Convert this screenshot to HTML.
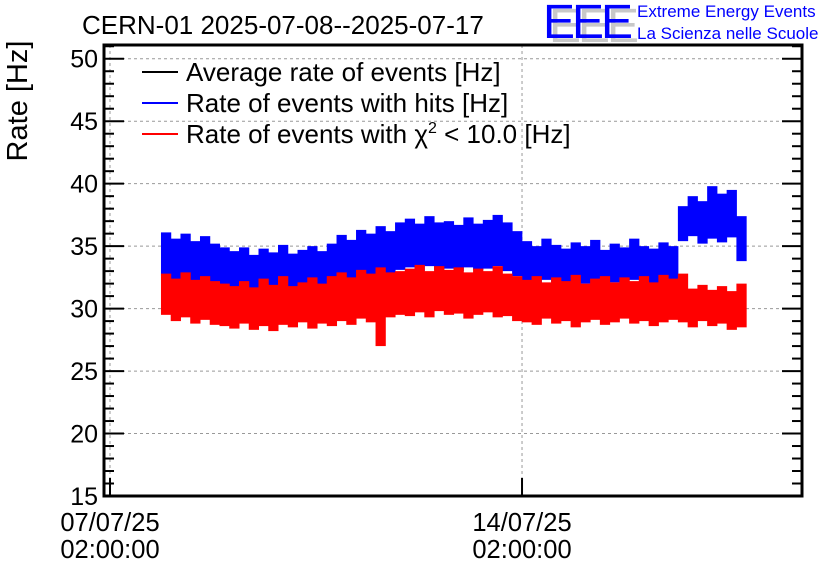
<!DOCTYPE html>
<html><head><meta charset="utf-8"><style>
body{margin:0;background:#fff;}
svg text{font-family:"Liberation Sans",sans-serif;}
</style></head><body>
<svg id="chart" width="836" height="572" xmlns="http://www.w3.org/2000/svg">
<rect width="836" height="572" fill="#fff"/>
<text x="82" y="34" font-size="26">CERN-01 2025-07-08--2025-07-17</text>
<g>
<text x="549" y="42" font-size="48" fill="#c8c8c8" letter-spacing="-3">EEE</text>
<text x="543" y="38" font-size="48" fill="#0000ff" letter-spacing="-3">EEE</text>
<text x="637" y="17" font-size="17" fill="#0000ff">Extreme Energy Events</text>
<text x="637" y="39" font-size="17" fill="#0000ff">La Scienza nelle Scuole</text>
</g>
<text transform="translate(27,101) rotate(-90)" text-anchor="middle" font-size="29">Rate [Hz]</text>
<g id="grid"></g>
<g id="data"></g>
<g id="axes"></g>
<g>
<line x1="142" y1="72" x2="178" y2="72" stroke="#000" stroke-width="2"/>
<text x="186" y="81" font-size="26">Average rate of events [Hz]</text>
<line x1="142" y1="103" x2="178" y2="103" stroke="#0000ff" stroke-width="2"/>
<text x="186" y="112" font-size="26">Rate of events with hits [Hz]</text>
<line x1="142" y1="134" x2="178" y2="134" stroke="#ff0000" stroke-width="2"/>
<text x="186" y="143" font-size="26">Rate of events with χ<tspan font-size="16" dy="-10">2</tspan><tspan dy="10"> &lt; 10.0 [Hz]</tspan></text>
</g>
</svg>
<script>
const yTicks=[15,20,25,30,35,40,45,50];
const xTickDays=[0,7];
const xTickLabels=[["07/07/25","02:00:00"],["14/07/25","02:00:00"]];
const startDay=0.866;
const binDays=0.1657;
const blueHi=[36.1,35.6,36.0,35.4,35.8,35.2,34.9,34.6,34.9,34.3,34.8,34.5,35.1,34.4,34.7,35.0,34.6,35.2,35.9,35.5,36.3,36.0,36.6,36.2,36.9,37.2,36.8,37.4,36.9,37.0,36.7,37.3,36.8,37.1,37.5,36.9,36.2,35.4,35.0,35.6,35.1,34.8,35.3,35.0,35.5,34.7,35.2,34.9,35.6,35.0,34.8,35.3,35.0,38.2,39.0,38.6,39.8,39.2,39.5,37.4];
const blueLo=[32.6,32.2,32.4,32.0,32.3,31.9,31.7,31.5,31.8,31.4,31.7,31.5,31.9,31.6,31.8,32.0,31.7,32.2,32.5,32.3,32.8,32.6,33.0,32.7,33.1,33.3,33.0,33.4,33.1,33.2,33.0,33.3,33.1,33.2,33.4,33.0,32.6,32.2,32.0,32.3,32.1,31.9,32.2,32.0,32.3,31.8,32.1,31.9,32.3,32.0,31.9,32.2,32.0,35.4,35.8,35.2,35.6,35.3,35.7,33.8];
const redHi=[32.8,32.4,32.9,32.3,32.6,32.2,32.0,31.8,32.2,31.7,32.4,31.9,32.6,31.8,32.1,32.5,32.0,32.6,32.9,32.5,33.1,32.8,33.3,32.9,33.0,33.2,33.5,33.0,33.4,33.1,33.3,32.9,33.2,33.0,33.4,32.8,32.6,32.3,32.6,32.1,32.5,32.2,32.7,32.0,32.4,32.6,32.1,32.5,32.2,32.6,32.1,32.7,32.4,32.8,31.6,31.9,31.5,31.8,31.4,32.0];
const redLo=[29.5,29.0,29.3,28.8,29.1,28.7,28.6,28.4,28.8,28.3,28.6,28.2,28.7,28.5,28.9,28.4,28.8,28.6,29.0,28.7,29.2,28.9,27.0,29.3,29.5,29.4,29.7,29.3,29.8,29.5,29.6,29.2,29.5,29.7,29.3,29.4,29.0,28.9,28.7,29.2,28.8,29.0,28.5,28.9,29.1,28.7,28.9,29.2,28.8,29.0,28.6,28.9,29.1,28.9,28.5,29.0,28.6,28.8,28.3,28.5];

const NS="http://www.w3.org/2000/svg";
const L=104,R=802,T=45,B=496;
const yMin=15,yMax=51.1;
const dayPx=58.86, day0X=110;
function xs(d){return day0X+d*dayPx;}
function ys(v){return B-(v-yMin)/(yMax-yMin)*(B-T);}
function mk(tag,attrs,parent){const e=document.createElementNS(NS,tag);for(const k in attrs)e.setAttribute(k,attrs[k]);parent.appendChild(e);return e;}
const grid=document.getElementById('grid'),data=document.getElementById('data'),axes=document.getElementById('axes');
yTicks.forEach(v=>{
  const g=mk('line',{x1:L,x2:R,y1:ys(v),y2:ys(v),stroke:'#999','stroke-dasharray':'3,3','stroke-width':1},grid);
  
  
});
xTickDays.forEach(d=>{
  const g=mk('line',{x1:xs(d),x2:xs(d),y1:T,y2:B,stroke:'#999','stroke-dasharray':'3,3','stroke-width':1},grid);
  
  
});
function band(hi,lo,color,name){
  hi.forEach((h,i)=>{
    const x0=xs(startDay+i*binDays),x1=xs(startDay+(i+1)*binDays);
    const r=mk('rect',{x:x0,y:ys(h),width:x1-x0+0.5,height:ys(lo[i])-ys(h),fill:color},data);
    
    
  });
}
band(blueHi,blueLo,'#0000ff','hits-rate-bin');
band(redHi,redLo,'#ff0000','chi2-rate-bin');
const fr=mk('rect',{x:L,y:T,width:R-L,height:B-T,fill:'none',stroke:'#000','stroke-width':3},axes);


for(let v=15;v<=51;v++){
  const len=(v%5===0)?20:10;
  mk('line',{x1:L,x2:L+len,y1:ys(v),y2:ys(v),stroke:'#000','stroke-width':2},axes);
  mk('line',{x1:R,x2:R-len,y1:ys(v),y2:ys(v),stroke:'#000','stroke-width':2},axes);
}
yTicks.forEach(v=>{
  const t=mk('text',{x:98,y:ys(v)+9,'text-anchor':'end','font-size':25},axes);
  t.textContent=v;
  
  
});
xTickDays.forEach((d,i)=>{
  mk('line',{x1:xs(d),x2:xs(d),y1:B,y2:B-18,stroke:'#000','stroke-width':2},axes);
  const t1=mk('text',{x:xs(d),y:531,'text-anchor':'middle','font-size':25.5},axes);
  t1.textContent=xTickLabels[i][0];
  
  
  const t2=mk('text',{x:xs(d),y:558,'text-anchor':'middle','font-size':25.5},axes);
  t2.textContent=xTickLabels[i][1];
  
  
});
mk('line',{x1:R-18,x2:R,y1:B,y2:B,stroke:'#000','stroke-width':2},axes);
</script>
</body></html>
